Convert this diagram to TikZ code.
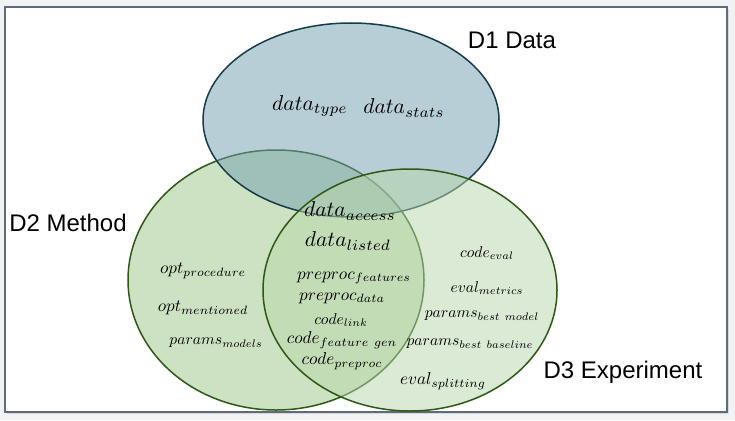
\documentclass[tikz,border=0pt]{standalone}
\usepackage{amsmath}
\usepackage{fontspec}
\newfontfamily\labelfont{Liberation Sans}
\usetikzlibrary{positioning}

\begin{document}
\begin{tikzpicture}[x=1pt,y=-1pt,
    big item/.style={inner sep=0pt,scale=2.15,transform shape},
    mid item/.style={inner sep=0pt,scale=1.72,transform shape},
    small item/.style={inner sep=0pt,scale=1.56,transform shape},
    set label/.style={inner sep=0pt,font=\fontsize{24}{28}\selectfont\labelfont}]
    \definecolor{pagegray}{RGB}{241,242,244}
    \definecolor{framegray}{RGB}{96,107,120}
    \definecolor{datafill}{RGB}{115,159,177}
    \definecolor{dataline}{RGB}{22,60,74}
    \definecolor{methodfill}{RGB}{155,199,135}
    \definecolor{expfill}{RGB}{185,215,171}
    \definecolor{greenline}{RGB}{46,88,22}
    % page
    \fill[pagegray] (0,0) rectangle (735,420);
    \useasboundingbox (0,0) rectangle (735,420);
    % border
    \fill[black!15] (7,9) rectangle (729,414);
    \draw[framegray,line width=1.2pt,fill=white] (5,7) rectangle (727,412);
    % sets
    \draw[greenline,line width=1.5pt,fill=methodfill,fill opacity=0.5] (276,280) ellipse [x radius=148pt,y radius=130pt];
    \draw[dataline,line width=1.5pt,fill=datafill,fill opacity=0.5] (351,120) ellipse [x radius=148pt,y radius=97pt];
    \draw[greenline,line width=1.5pt,fill=expfill,fill opacity=0.5] (410,290) ellipse [x radius=147pt,y radius=121pt];
    % set labels
    \node[set label] (d1) at (512,40) {D1 Data};
    \node[set label] (d2) at (68,223) {D2 Method};
    \node[set label] (d3) at (623,372) {D3 Experiment};
    % D1 only
    \node[big item] (dtype) at (310,106) {$data_{type}$};
    \node[big item] (dstats) at (404,108) {$data_{stats}$};
    % D1, D2 and D3
    \node[big item] (daccess) at (350,211) {$data_{access}$};
    \node[big item] (dlisted) at (348,241) {$data_{listed}$};
    % D2 and D3
    \node[mid item] (ppfeat) at (354,278) {$preproc_{features}$};
    \node[mid item] (ppdata) at (342,298) {$preproc_{data}$};
    \node[small item] (clink) at (341,320) {$code_{link}$};
    \node[mid item] (cfeat) at (342,340) {$code_{feature\ gen}$};
    \node[mid item] (cpre) at (342,361) {$code_{preproc}$};
    % D2 only
    \node[mid item] (oproc) at (203,271) {$opt_{procedure}$};
    \node[mid item] (oment) at (203,308) {$opt_{mentioned}$};
    \node[small item] (pmodels) at (216,343) {$params_{models}$};
    % D3 only
    \node[small item] (ceval) at (487,253) {$code_{eval}$};
    \node[small item] (emetrics) at (487,288) {$eval_{metrics}$};
    \node[small item] (pbest) at (482,316) {$params_{best\ model}$};
    \node[small item] (pbase) at (470,344) {$params_{best\ baseline}$};
    \node[mid item] (esplit) at (443,381) {$eval_{splitting}$};
\end{tikzpicture}
\end{document}
